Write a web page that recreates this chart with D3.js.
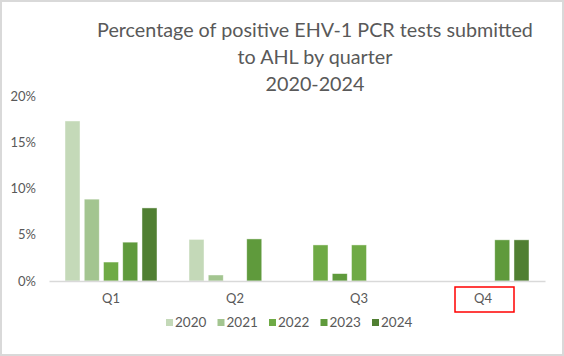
<!DOCTYPE html>
<html><head><meta charset="utf-8">
<script src="https://cdn.jsdelivr.net/npm/d3@7"></script>
<style>html,body{margin:0;padding:0;background:#fff;}svg{display:block;font-family:Lato,"Open Sans",sans-serif;}</style>
</head><body>
<svg id="chart" width="564" height="356"></svg>
<script>
const quarters = ["Q1", "Q2", "Q3", "Q4"];
const years = ["2020", "2021", "2022", "2023", "2024"];
const s2020 = [17.3, 4.5, 3.9, 0];
const s2021 = [8.85, 0.65, 0.8, 0];
const s2022 = [2.05, 0, 3.9, 0];
const s2023 = [4.2, 4.55, 0, 4.45];
const s2024 = [7.9, 0, 0, 4.45];
const yTicks = [0, 5, 10, 15, 20];
const titleLines = ["Percentage of positive EHV-1 PCR tests submitted", "to AHL by quarter", "2020-2024"];

(function(){
const seriesValues = [s2020, s2021, s2022, s2023, s2024];
const colors = ["#C4D9B8", "#A3C590", "#6FAA45", "#5F9A3C", "#507F32"];
// per-point colour overrides seen in the reference (Q3)
const colorOverrides = {"Q3|2020": "#6FAA45", "Q3|2021": "#5F9A3C", "Q3|2022": "#6FAA45"};

const svg = d3.select("#chart");
const W = 564, H = 356;
svg.append("rect").attr("x", 1).attr("y", 1).attr("width", W - 2).attr("height", H - 2)
  .attr("fill", "#fff").attr("stroke", "#D9D9D9").attr("stroke-width", 2);

const pl = 49, pr = 545, pt = 96, pb = 281;
const x0 = d3.scaleBand().domain(quarters).range([pl, pr]).padding(0);
const x1 = d3.scaleBand().domain(years).range([16, 108]).paddingInner(0.22).paddingOuter(0);
const y = d3.scaleLinear().domain([0, 20]).range([pb, pt]);

const title = svg.append("g").attr("fill", "#595959");
const titleY = [37, 64, 91];
titleLines.forEach((t, i) => {
  title.append("text").attr("x", 315).attr("y", titleY[i]).attr("text-anchor", "middle")
    .style("font-size", "19px").text(t);
});
const t0 = title.select("text").node();
const fs = 19 * 436 / t0.getComputedTextLength();
title.selectAll("text").style("font-size", fs + "px");

const yAxis = d3.axisLeft(y).tickValues(yTicks).tickFormat(d => d + "%").tickSize(0).tickPadding(0);
const gy = svg.append("g").attr("transform", `translate(36,0)`).call(yAxis);
gy.select(".domain").remove();
gy.selectAll("text").attr("fill", "#595959").style("font-size", "13px").style("font-family", "Lato, sans-serif");

const data = [];
quarters.forEach((q, qi) => years.forEach((yr, yi) => {
  data.push({q, yr, v: seriesValues[yi][qi], c: colorOverrides[q + "|" + yr] || colors[yi]});
}));
svg.append("g").selectAll("rect").data(data.filter(d => d.v > 0)).join("rect")
  .attr("x", d => x0(d.q) + x1(d.yr))
  .attr("width", x1.bandwidth())
  .attr("y", d => y(d.v))
  .attr("height", d => y(0) - y(d.v))
  .attr("fill", d => d.c)
  .attr("stroke", "#fff").attr("stroke-opacity", 0.6).attr("stroke-width", 0.75);

const xAxis = d3.axisBottom(x0).tickSize(0).tickPadding(0);
const gx = svg.append("g").attr("transform", `translate(0,${pb})`).call(xAxis);
gx.select(".domain").attr("stroke", "#D9D9D9").attr("stroke-width", 1.5);
gx.selectAll("text").attr("fill", "#595959").attr("dy", null).attr("y", 22)
  .style("font-size", "13px").style("font-family", "Lato, sans-serif");

svg.append("rect").attr("x", x0("Q4") + 34).attr("y", 287).attr("width", 59).attr("height", 25)
  .attr("fill", "none").attr("stroke", "#FF0000").attr("stroke-width", 1.5);

const lg = svg.append("g").attr("transform", "translate(166,0)");
const items = lg.selectAll("g").data(years).join("g").attr("transform", (d, i) => `translate(${i * 51.5},0)`);
items.append("rect").attr("x", 0).attr("y", 319).attr("width", 7).attr("height", 7).attr("fill", (d, i) => colors[i]);
items.append("text").attr("x", 9).attr("y", 327).attr("fill", "#595959").style("font-size", "13.5px").text(d => d);
})();
</script>
</body></html>
